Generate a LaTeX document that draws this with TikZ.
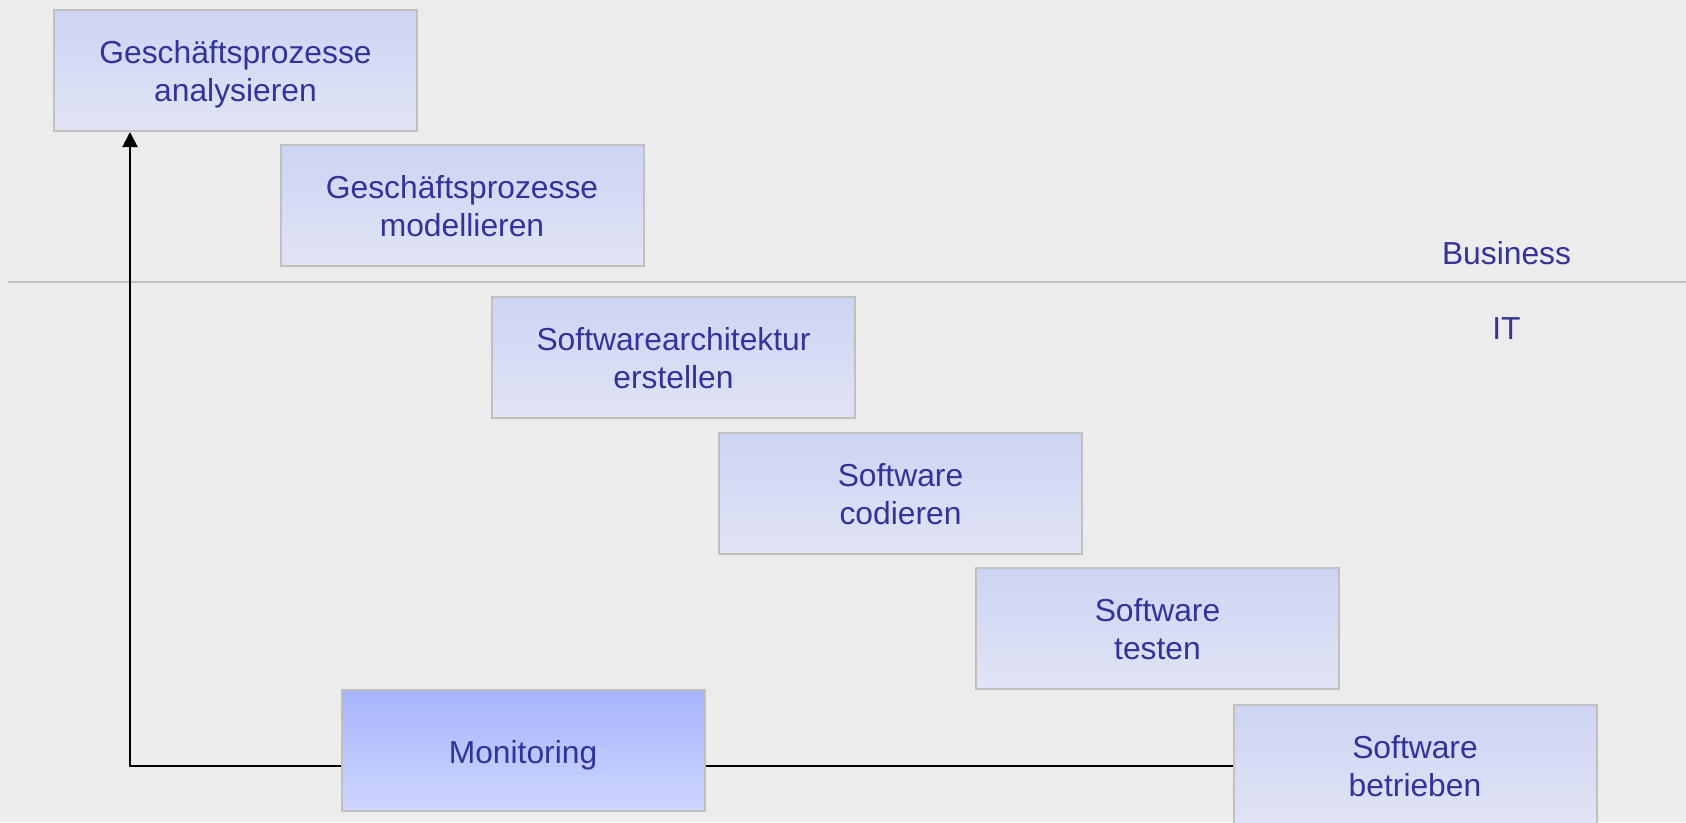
\documentclass[tikz,border=0pt]{standalone}
\usepackage{fontspec}
\setmainfont{Liberation Sans}
\usetikzlibrary{arrows.meta}
\definecolor{bgc}{RGB}{236,236,236}
\definecolor{txt}{RGB}{51,51,153}
\definecolor{edge}{RGB}{192,192,192}
\definecolor{boxtop}{RGB}{205,212,243}
\definecolor{boxbot}{RGB}{225,228,245}
\definecolor{montop}{RGB}{166,180,252}
\definecolor{monbot}{RGB}{206,214,254}
\tikzset{
  lane/.style={text=txt, font=\fontsize{31.8}{38}\selectfont, anchor=base, inner sep=0pt},
  phase/.style={draw=edge, line width=2pt, top color=boxtop, bottom color=boxbot,
    minimum width=363pt, minimum height=121pt, inner sep=0pt},
  active/.style={phase, top color=montop, bottom color=monbot},
  flow/.style={draw=black, line width=2pt},
}
% a process step: box plus two centred text lines set on fixed baselines
\newcommand\stepbox[4]{%
  \node[phase] (#1) at (#2) {};
  \node[lane] (#1-a) at ([yshift=7pt]#1.center) {#3};
  \node[lane] (#1-b) at ([yshift=-31pt]#1.center) {#4};
}
\begin{document}
\begin{tikzpicture}[x=1pt, y=-1pt]
  \useasboundingbox (0,0) rectangle (1686,822);
  \fill[bgc] (0,0) rectangle (1686,822);
  % business / IT separator
  \draw[edge, line width=2pt] (8,282) -- (1686,282);
  \node[lane] (business) at (1506.5,264) {Business};
  \node[lane] (it) at (1506.5,339) {IT};
  % feedback loop from operation back to analysis
  \coordinate (turn) at (130,766);
  \stepbox{ana}{235.5,70.5}{Geschäftsprozesse}{analysieren}
  \stepbox{mod}{462,205.5}{Geschäftsprozesse}{modellieren}
  \stepbox{arch}{673.5,357}{Softwarearchitektur}{erstellen}
  \stepbox{cod}{900.5,493.5}{Software}{codieren}
  \stepbox{test}{1157.5,628.5}{Software}{testen}
  \stepbox{run}{1415,765.5}{Software}{betrieben}
  \node[active] (mon) at (523,750.5) {};
  \node[lane] (mon-a) at ([yshift=-12.5pt]mon.center) {Monitoring};
  \draw[flow] (run.west) -- (run.west -| mon.east);
  \draw[flow, -{Triangle[length=15pt, width=15pt]}] (mon.west |- turn) -- (turn) -- (turn |- ana.south);
\end{tikzpicture}
\end{document}
